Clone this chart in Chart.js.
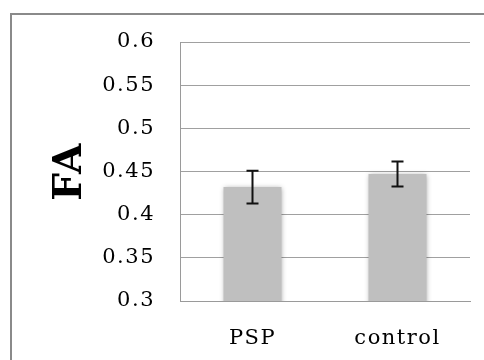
<!DOCTYPE html>
<html>
<head>
<meta charset="utf-8">
<script src="https://cdn.jsdelivr.net/npm/chart.js@4/dist/chart.umd.min.js"></script>
<style>
  html, body { margin: 0; padding: 0; background: #ffffff; overflow: hidden; }
  #frame { position: absolute; left: 10px; top: 13px; width: 520px; height: 400px; border: 2px solid #8a8a8a; background: #fff; }
  #wrap { position: absolute; left: 0; top: 0; width: 484px; height: 360px; }
</style>
</head>
<body>
<div id="frame"></div>
<div id="wrap"><canvas id="c" width="484" height="360"></canvas></div>
<script>
const categories = ["PSP", "control"];
const faValues = [0.432, 0.447];
const faErrors = [0.019, 0.0145];
const yTickValues = [0.3, 0.35, 0.4, 0.45, 0.5, 0.55, 0.6];
const yTickLabels = ["0.3", "0.35", "0.4", "0.45", "0.5", "0.55", "0.6"];
const yTitle = "FA";

const FONT = "'DejaVu Serif', 'Liberation Serif', serif";

const spacingPlugin = {
  id: 'letterSpacing',
  beforeLayout(chart) { chart.ctx.letterSpacing = '1.5px'; },
  beforeDraw(chart) { chart.ctx.letterSpacing = '1.5px'; }
};

const shadowPlugin = {
  id: 'barShadow',
  beforeDatasetsDraw(chart) {
    const ctx = chart.ctx;
    ctx.save();
    ctx.shadowColor = 'rgba(0,0,0,0.35)';
    ctx.shadowBlur = 5;
    ctx.shadowOffsetX = 0;
    ctx.shadowOffsetY = 1;
  },
  afterDatasetsDraw(chart) {
    chart.ctx.restore();
  }
};

const errorBarPlugin = {
  id: 'errorBars',
  afterDraw(chart) {
    const ctx = chart.ctx;
    const y = chart.scales.y;
    const meta = chart.getDatasetMeta(0);
    ctx.save();
    ctx.strokeStyle = '#111111';
    ctx.lineWidth = 2;
    meta.data.forEach((bar, i) => {
      const x = bar.x;
      const top = y.getPixelForValue(faValues[i] + faErrors[i]);
      const bot = y.getPixelForValue(faValues[i] - faErrors[i]);
      const cap = 6;
      ctx.beginPath();
      ctx.moveTo(x, top); ctx.lineTo(x, bot);
      ctx.moveTo(x - cap, top); ctx.lineTo(x + cap, top);
      ctx.moveTo(x - cap, bot); ctx.lineTo(x + cap, bot);
      ctx.stroke();
    });
    ctx.restore();
  }
};

new Chart(document.getElementById('c'), {
  type: 'bar',
  data: {
    labels: categories,
    datasets: [{
      data: faValues,
      backgroundColor: '#bfbfbf',
      borderWidth: 0,
      categoryPercentage: 1.0,
      barPercentage: 0.4
    }]
  },
  options: {
    responsive: false,
    animation: false,
    layout: { padding: { left: 0, right: 14, top: 42, bottom: 0 } },
    plugins: { legend: { display: false }, tooltip: { enabled: false } },
    scales: {
      x: {
        grid: { display: false, drawTicks: false },
        border: { display: true, color: '#9a9a9a', width: 1 },
        ticks: { color: '#000', padding: 25, font: { family: FONT, size: 21 } },
        afterFit(axis) { axis.height = 59; }
      },
      y: {
        min: 0.3, max: 0.6,
        afterBuildTicks(axis) { axis.ticks = yTickValues.map(v => ({ value: v })); },
        ticks: {
          color: '#000', padding: 25,
          font: { family: FONT, size: 21 },
          callback(value) { const i = yTickValues.findIndex(v => Math.abs(v - value) < 1e-9); return i >= 0 ? yTickLabels[i] : ''; }
        },
        grid: { color: '#a0a0a0', lineWidth: 1, drawTicks: false },
        border: { display: true, color: '#9a9a9a', width: 1 },
        title: {
          display: true, text: yTitle, color: '#000',
          font: { family: FONT, size: 39, weight: 'bold' },
          padding: { top: 47, bottom: 0 }
        },
        afterFit(axis) { axis.width = 180; }
      }
    }
  },
  plugins: [spacingPlugin, shadowPlugin, errorBarPlugin]
});
</script>
</body>
</html>
